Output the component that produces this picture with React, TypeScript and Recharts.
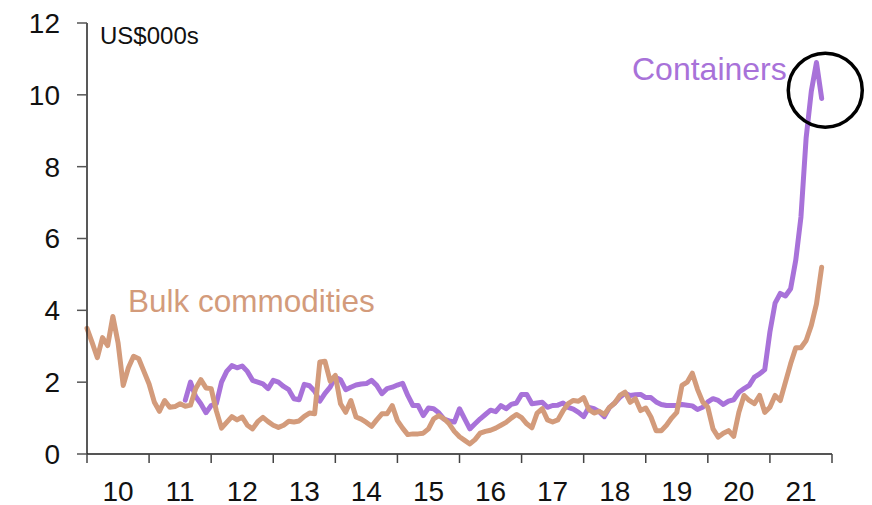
import React from 'react';
import { LineChart, Line, XAxis, YAxis, ReferenceDot, Customized } from 'recharts';

// Monthly data, index 0 = Jan 2010
const bulkCommodities: number[] = [
  3.5, 3.1, 2.68, 3.24, 3.02, 3.83, 3.1, 1.91, 2.4, 2.72, 2.65, 2.3,
  1.95, 1.45, 1.19, 1.49, 1.3, 1.32, 1.4, 1.33, 1.36, 1.82, 2.07, 1.84,
  1.82, 1.2, 0.72, 0.88, 1.04, 0.95, 1.03, 0.8, 0.7, 0.9, 1.02, 0.9,
  0.8, 0.74, 0.8, 0.91, 0.89, 0.92, 1.05, 1.14, 1.12, 2.56, 2.58, 2.03,
  2.19, 1.4, 1.16, 1.49, 1.03, 0.97, 0.88, 0.77, 0.95, 1.12, 1.12, 1.35,
  0.93, 0.72, 0.54, 0.56, 0.56, 0.58, 0.7, 0.98, 1.07, 0.98, 0.84, 0.63,
  0.48, 0.38, 0.28, 0.4, 0.58, 0.63, 0.66, 0.72, 0.8, 0.88, 1.0, 1.1,
  1.01, 0.84, 0.73, 1.14, 1.26, 0.95, 0.89, 0.95, 1.2, 1.4, 1.49, 1.47,
  1.57, 1.24, 1.14, 1.19, 1.1, 1.3, 1.42, 1.63, 1.72, 1.44, 1.54, 1.21,
  1.28, 1.03, 0.65, 0.65, 0.8, 1.0, 1.16, 1.91, 2.0, 2.25, 1.8, 1.45,
  1.3, 0.7, 0.47, 0.58, 0.65, 0.49, 1.16, 1.63, 1.49, 1.4, 1.63, 1.16,
  1.3, 1.63, 1.49, 2.0, 2.51, 2.96, 2.96, 3.16, 3.58, 4.18, 5.2,
];

// Containers start Aug 2011 (month index 19)
const containersStart = 19;
const containers: number[] = [
  1.5, 2.0, 1.6, 1.4, 1.15,
  1.35, 1.4, 2.0, 2.3, 2.46, 2.4, 2.45, 2.3, 2.05, 2.0, 1.95, 1.82,
  2.05, 2.0, 1.88, 1.79, 1.54, 1.51, 1.94, 1.9, 1.75, 1.47, 1.69, 1.86,
  2.14, 2.07, 1.79, 1.86, 1.92, 1.95, 1.96, 2.05, 1.91, 1.68, 1.82, 1.86,
  1.92, 1.97, 1.63, 1.35, 1.35, 1.07, 1.28, 1.26, 1.15, 0.97, 0.92, 0.89,
  1.26, 0.98, 0.7, 0.84, 0.98, 1.1, 1.22, 1.18, 1.35, 1.26, 1.38, 1.42,
  1.66, 1.66, 1.4, 1.42, 1.44, 1.3, 1.35, 1.36, 1.42, 1.3, 1.25, 1.16,
  1.04, 1.3, 1.26, 1.18, 1.04, 1.3, 1.42, 1.58, 1.69, 1.63, 1.65, 1.66,
  1.57, 1.57, 1.45, 1.38, 1.35, 1.35, 1.35, 1.38, 1.36, 1.34, 1.24, 1.3,
  1.45, 1.54, 1.49, 1.38, 1.47, 1.51, 1.72, 1.82, 1.91, 2.14, 2.23, 2.35,
  3.4, 4.2, 4.47, 4.4, 4.6, 5.4, 6.6, 8.8, 10.1, 10.9, 9.9,
];

const yearLabels: string[] = ['10', '11', '12', '13', '14', '15', '16', '17', '18', '19', '20', '21'];
const yTicks: number[] = [0, 2, 4, 6, 8, 10, 12];

const rows = bulkCommodities.map((b, i) => ({
  m: i,
  bulk: b,
  cont: i >= containersStart ? containers[i - containersStart] : null,
}));

const xTicks: number[] = [];
for (let i = 0; i <= yearLabels.length * 2; i++) xTicks.push(i * 6);

const FONT = '"Liberation Sans", Arial, sans-serif';
const PURPLE = '#A872D9';
const TAN = '#D39B7B';

const XTick = (props: any) => {
  const { x, y, payload } = props;
  const v = payload.value as number;
  if (v % 12 === 0) {
    return <line x1={x} x2={x} y1={y} y2={y + 9} stroke="#444" strokeWidth={1.5} />;
  }
  const idx = Math.floor(v / 12);
  return (
    <text x={x} y={y + 37} textAnchor="middle" dominantBaseline="central" fontSize={28} fontFamily={FONT} fill="#111">
      {yearLabels[idx]}
    </text>
  );
};

const Labels = () => (
  <g fontFamily={FONT}>
    <text x={100} y={44} fontSize={24} fill="#111">US$000s</text>
    <text x={632} y={80} fontSize={32} fill={PURPLE}>Containers</text>
    <text x={128} y={312} fontSize={31.5} fill={TAN}>Bulk commodities</text>
  </g>
);

export default function App() {
  return (
    <div style={{ position: 'absolute', left: 0, top: 0, background: '#fff' }}>
      <LineChart width={872} height={505} data={rows} margin={{ top: 23, right: 40, left: 0, bottom: 0 }}>
        <XAxis
          dataKey="m"
          type="number"
          domain={[0, 144]}
          ticks={xTicks}
          interval={0}
          tick={<XTick />}
          tickLine={false}
          tickSize={0}
          tickMargin={0}
          height={51}
          axisLine={{ stroke: '#555', strokeWidth: 2 }}
        />
        <YAxis
          type="number"
          domain={[0, 12]}
          ticks={yTicks}
          interval={0}
          width={87}
          tickSize={10}
          tickMargin={17}
          tick={{ fontSize: 28, fontFamily: FONT, fill: '#111' }}
          tickLine={{ stroke: '#555', strokeWidth: 1.5 }}
          axisLine={{ stroke: '#222', strokeWidth: 1.5 }}
        />
        <Line
          type="linear"
          dataKey="cont"
          stroke={PURPLE}
          strokeWidth={5}
          dot={false}
          isAnimationActive={false}
          strokeLinejoin="round"
          strokeLinecap="round"
        />
        <Line
          type="linear"
          dataKey="bulk"
          stroke={TAN}
          strokeWidth={5}
          dot={false}
          isAnimationActive={false}
          strokeLinejoin="round"
          strokeLinecap="round"
        />
        <ReferenceDot
          x={142.7}
          y={10.13}
          r={37}
          fill="none"
          stroke="#000"
          strokeWidth={3.5}
          ifOverflow="visible"
        />
        <Customized component={Labels} />
      </LineChart>
    </div>
  );
}
